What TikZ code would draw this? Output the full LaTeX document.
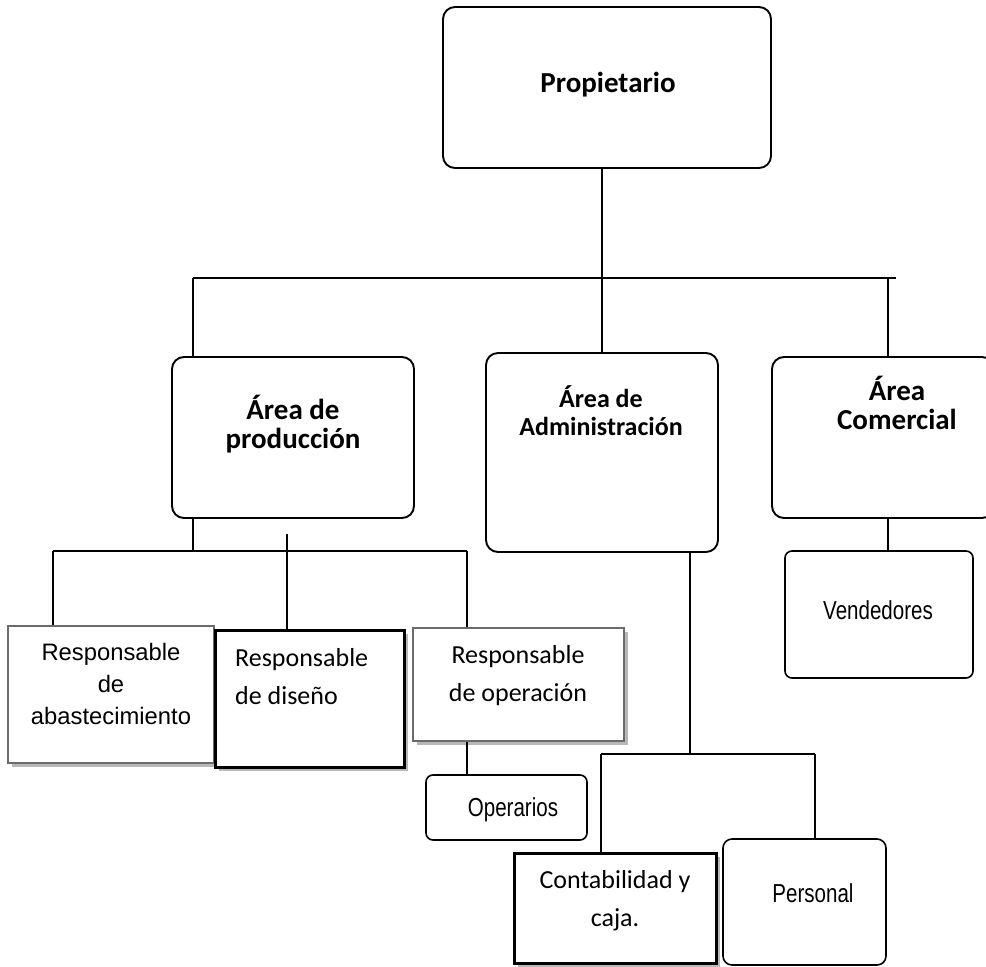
\documentclass[tikz,border=0pt]{standalone}
\usepackage{fontspec}
\setmainfont{Carlito}
\newfontfamily\arialf{Liberation Sans}
\usetikzlibrary{shadows}
\begin{document}
\begin{tikzpicture}[x=1pt,y=-1pt,
  conn/.style={line width=2pt},
  bigbox/.style={draw, fill=white, line width=1.9pt, rounded corners=12pt, inner sep=0pt},
  smallbox/.style={draw, fill=white, line width=1.6pt, rounded corners=7pt, inner sep=0pt},
  shad/.style={drop shadow={shadow xshift=4pt, shadow yshift=-4pt, fill=black!28, opacity=1}},
  graybox/.style={draw=black!58, fill=white, line width=2.4pt, inner sep=0pt, shad},
  thickbox/.style={draw, fill=white, line width=3pt, inner sep=0pt, shad},
  bt/.style={font=\bfseries\fontsize{29}{29}\selectfont, inner sep=0pt, align=center},
  bts/.style={font=\bfseries\fontsize{26}{28}\selectfont, inner sep=0pt, align=center},
  ct/.style={font=\fontsize{26}{38}\selectfont, inner sep=0pt, align=center},
  ariatxt/.style={font=\arialf\fontsize{23.8}{32}\selectfont, inner sep=0pt, align=center},
  nt/.style={font=\arialf\fontsize{26}{26}\selectfont, inner sep=0pt}]
\useasboundingbox (0,0) rectangle (986,967);
\clip (0,0) rectangle (986,967);

% boxes
\node[bigbox, minimum width=328pt, minimum height=161pt] (prop) at (607,87.5) {};
\node[bigbox, minimum width=242pt, minimum height=161pt] (prodA) at (293,437.5) {};
\node[bigbox, minimum width=232pt, minimum height=199pt] (adm) at (602,452.5) {};
\node[bigbox, minimum width=222pt, minimum height=161pt] (comA) at (883,437.5) {};
\node[smallbox, minimum width=188pt, minimum height=127pt] (vend) at (879,614.5) {};
\node[graybox, minimum width=206pt, minimum height=137pt] (abas) at (111,694.5) {};
\node[thickbox, minimum width=189pt, minimum height=137pt] (dis) at (309.5,698.5) {};
\node[graybox, minimum width=211pt, minimum height=113pt] (ope) at (518.5,684.5) {};
\node[smallbox, minimum width=161pt, minimum height=65pt] (oper) at (506.5,807.5) {};
\node[thickbox, minimum width=202pt, minimum height=110pt] (cont) at (615,908) {};
\node[smallbox, rounded corners=9pt, minimum width=163pt, minimum height=126pt] (pers) at (804.5,902) {};

% connectors
\coordinate (busL) at (193,278);
\coordinate (busR) at (896,278);
\coordinate (busC) at (888,278);
\draw[conn] (busL) -- (busR);
\draw[conn] (prop.south -| adm.north) -- (adm.north);
\draw[conn] (busL) -- (busL |- prodA.north);
\draw[conn] (busC) -- (busC |- comA.north);

\coordinate (pb) at (193,551);
\coordinate (pbL) at (53,551);
\coordinate (pbR) at (467,551);
\coordinate (stray) at (287,534);
\draw[conn] (prodA.south -| pb) -- (pb);
\draw[conn] (pbL) -- (pbR);
\draw[conn] (pbL) -- (pbL |- abas.north);
\draw[conn] (pbR) -- (pbR |- ope.north);
\draw[conn] (stray) -- (stray |- dis.north);
\draw[conn] (ope.south -| pbR) -- (oper.north -| pbR);
\draw[conn] (comA.south -| busC) -- (vend.north -| busC);

\coordinate (ab) at (690,754);
\coordinate (abL) at (601,754);
\coordinate (abR) at (815,754);
\draw[conn] (adm.south -| ab) -- (ab);
\draw[conn] (abL) -- (abR);
\draw[conn] (abL) -- (abL |- cont.north);
\draw[conn] (abR) -- (abR |- pers.north);

% texts
\node[bt] (tprop) at (608,85) {Propietario};
\node[bt] (tprod) at (293,424) {Área de\\producción};
\node[bts] (tadm) at (601,411) {Área de\\Administración};
\node[bt] (tcom) at (897,403) {Área\\Comercial};
\node[nt] (tvend) at (878,610) {\scalebox{0.79}[1]{Vendedores}};
\node[ariatxt] (tabas) at (111,684) {Responsable\\de\\abastecimiento};
\node[ct, align=left, anchor=west] (tdis) at (235,677) {Responsable\\de diseño};
\node[ct] (tope) at (518,676) {Responsable\\de operación};
\node[nt] (toper) at (513,810) {\scalebox{0.79}[1]{Operarios}};
\node[ct] (tcont) at (615,901) {Contabilidad y\\caja.};
\node[nt] (tpers) at (813,893) {\scalebox{0.79}[1]{Personal}};
\end{tikzpicture}
\end{document}
